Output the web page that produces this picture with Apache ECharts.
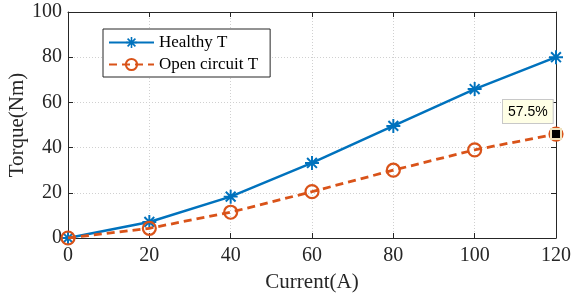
<!DOCTYPE html>
<html>
<head>
<meta charset="utf-8">
<script src="https://cdn.jsdelivr.net/npm/echarts@6/dist/echarts.min.js"></script>
<style>
  body { margin: 0; background: #fff; }
  #chart { width: 571px; height: 299px; }
</style>
</head>
<body>
<div id="chart"></div>
<script>
// current (A) on the x axis
const current = [0, 20, 40, 60, 80, 100, 120];
// torque values
const healthyT = [0, 7.1, 18.3, 33.2, 49.6, 65.9, 80];
const openT = [0, 4.3, 11.4, 20.5, 30.0, 39.0, 46];
const seriesNames = ['Healthy T', 'Open circuit T'];

const serif = 'Liberation Serif';
const blue = '#0072BD';
const orange = '#D95319';

// asterisk marker (four crossing bars)
const star = 'path://M0 8.6L20 8.6L20 11.4L0 11.4Z M8.6 0L11.4 0L11.4 20L8.6 20Z ' +
  'M4 2L18 16L16 18L2 4Z M18 4L4 18L2 16L16 2Z';

const ratio = (openT[6] / healthyT[6] * 100).toFixed(1) + '%';

const chart = echarts.init(document.getElementById('chart'));

// top and right axes only close the box
const boxAxis = {
  type: 'value',
  min: 0,
  axisLine: { show: true, onZero: false, lineStyle: { color: '#262626', width: 1 } },
  axisTick: { show: true, inside: true, length: 5, lineStyle: { color: '#262626' } },
  splitLine: { show: false },
  axisLabel: { show: false }
};

const option = {
  animation: false,
  grid: { left: 68, right: 15, top: 12, bottom: 61, outerBoundsMode: 'none', containLabel: false },
  legend: {
    data: seriesNames,
    orient: 'vertical',
    left: 103,
    top: 29,
    backgroundColor: '#fff',
    borderColor: '#262626',
    borderWidth: 1,
    borderRadius: 0,
    padding: [5, 12, 4, 5],
    itemWidth: 45,
    itemHeight: 14,
    itemGap: 5,
    textStyle: { fontFamily: serif, fontSize: 17, color: '#000' }
  },
  xAxis: [
    {
      type: 'value',
      min: 0, max: 120, interval: 20,
      name: 'Current(A)',
      nameLocation: 'middle',
      nameGap: 34,
      nameMoveOverlap: false,
      nameTextStyle: { fontFamily: serif, fontSize: 21, color: '#262626' },
      axisLine: { onZero: false, lineStyle: { color: '#262626', width: 1 } },
      axisTick: { inside: true, length: 5, lineStyle: { color: '#262626' } },
      axisLabel: { fontFamily: serif, fontSize: 20, color: '#262626', margin: 8 },
      splitLine: { show: true, lineStyle: { color: '#d0d0d0', type: [1, 2] } }
    },
    Object.assign({}, boxAxis, { position: 'top', max: 120, interval: 20 })
  ],
  yAxis: [
    {
      type: 'value',
      min: 0, max: 100, interval: 20,
      name: 'Torque(Nm)',
      nameLocation: 'middle',
      nameGap: 40,
      nameMoveOverlap: false,
      nameTextStyle: { fontFamily: serif, fontSize: 21, color: '#262626' },
      axisLine: { show: true, onZero: false, lineStyle: { color: '#262626', width: 1 } },
      axisTick: { show: true, inside: true, length: 5, lineStyle: { color: '#262626' } },
      axisLabel: { fontFamily: serif, fontSize: 20, color: '#262626', margin: 6 },
      splitLine: { show: true, lineStyle: { color: '#d0d0d0', type: [1, 2] } }
    },
    Object.assign({}, boxAxis, { position: 'right', max: 100, interval: 20 })
  ],
  series: [
    {
      name: seriesNames[0],
      type: 'line',
      data: current.map((c, i) => [c, healthyT[i]]),
      symbol: star,
      symbolSize: 14,
      showAllSymbol: true,
      itemStyle: { color: blue },
      lineStyle: { color: blue, width: 2.5 },
      z: 2
    },
    {
      name: seriesNames[1],
      type: 'line',
      data: current.map((c, i) => [c, openT[i]]),
      symbol: 'circle',
      symbolSize: 13,
      showAllSymbol: true,
      itemStyle: { color: 'rgba(0,0,0,0)', borderColor: orange, borderWidth: 2.2 },
      lineStyle: { color: orange, width: 2.8, type: [8, 5] },
      z: 3,
      markPoint: {
        symbol: 'rect',
        symbolSize: 10,
        itemStyle: { color: '#000', borderColor: '#f0e2bd', borderWidth: 2 },
        label: {
          show: true,
          formatter: ratio,
          position: [-47, -28],
          fontFamily: 'Liberation Sans',
          fontSize: 14,
          color: '#000',
          backgroundColor: '#FFFFE6',
          borderColor: '#c8c8c8',
          borderWidth: 1,
          padding: [5, 5, 4, 5]
        },
        data: [{ coord: [current[6], openT[6]] }]
      }
    }
  ]
};

chart.setOption(option);
</script>
</body>
</html>
